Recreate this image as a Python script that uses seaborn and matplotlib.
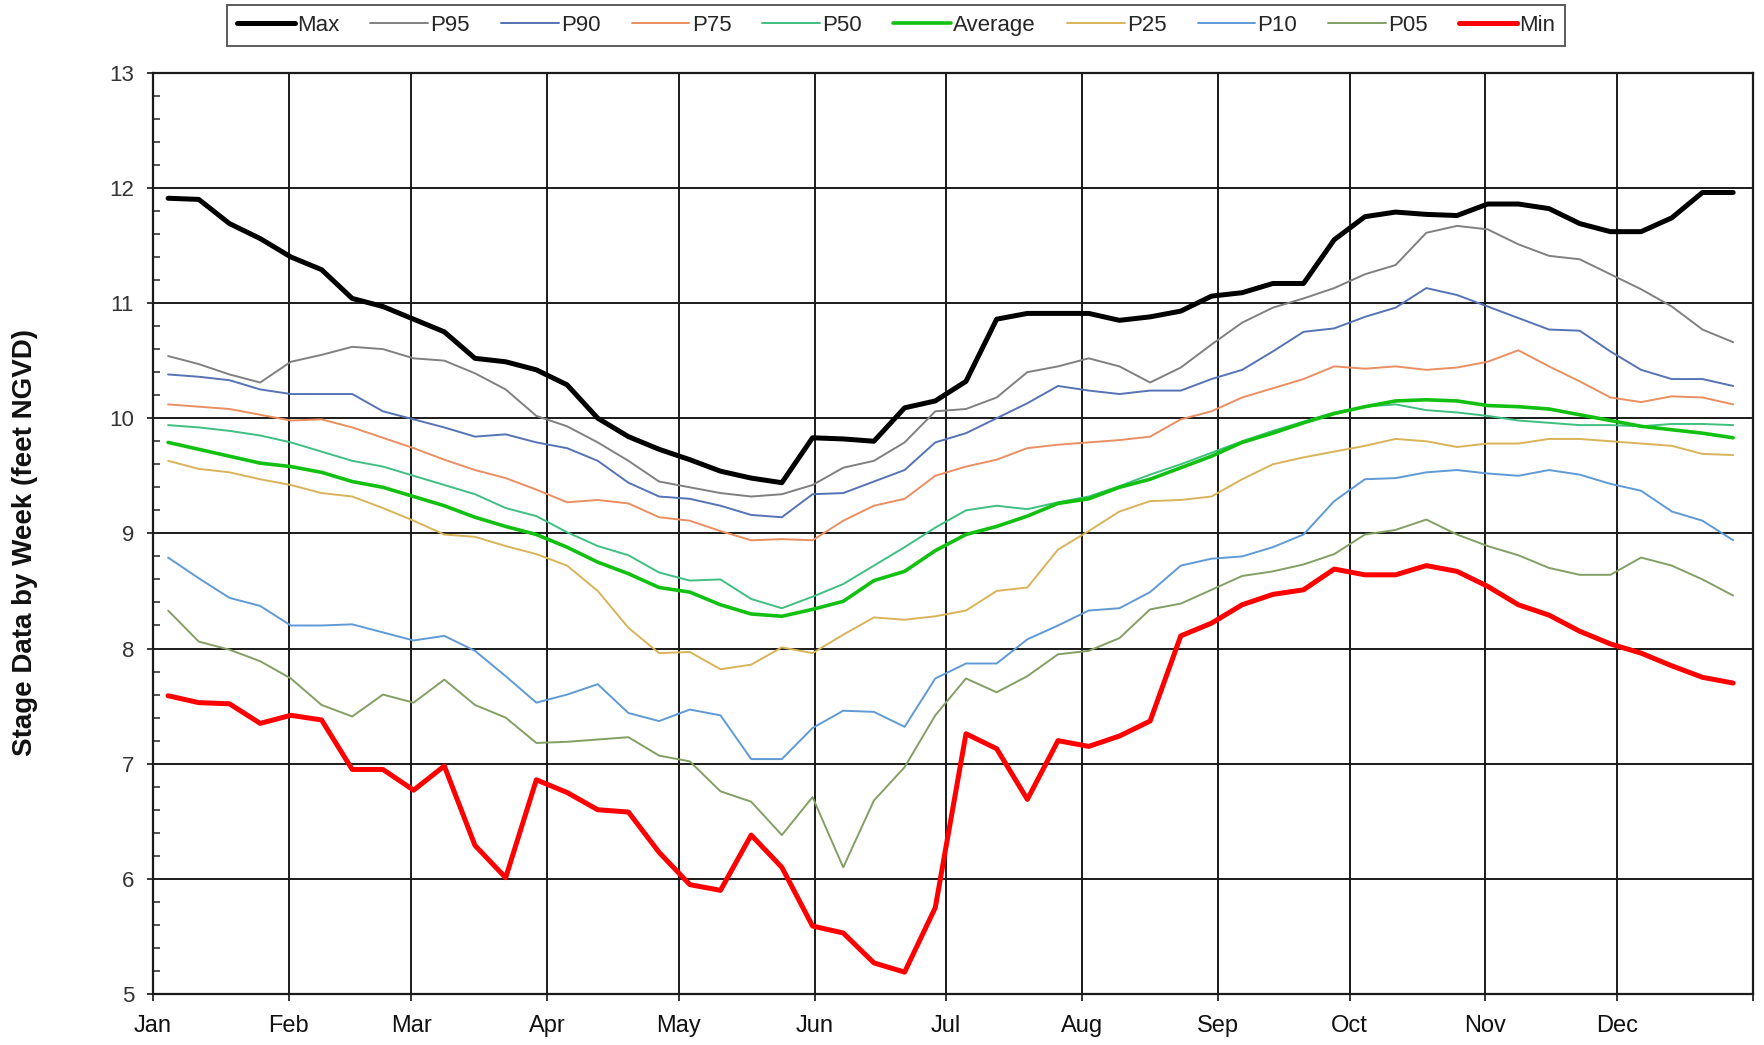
import numpy as np
import pandas as pd
import matplotlib
matplotlib.use("Agg")
import matplotlib.pyplot as plt
import seaborn as sns
from matplotlib.ticker import MultipleLocator

# ---------------- data (weekly stage, feet NGVD) ----------------
weeks = list(range(1, 53))

max_vals = [11.91, 11.90, 11.69, 11.56, 11.40, 11.29, 11.04, 10.97, 10.86, 10.75, 10.52, 10.49, 10.42,
            10.29, 10.00, 9.84, 9.73, 9.64, 9.54, 9.48, 9.44, 9.83, 9.82, 9.80, 10.09, 10.15,
            10.32, 10.86, 10.91, 10.91, 10.91, 10.85, 10.88, 10.93, 11.06, 11.09, 11.17, 11.17, 11.55,
            11.75, 11.79, 11.77, 11.76, 11.86, 11.86, 11.82, 11.69, 11.62, 11.62, 11.74, 11.96, 11.96]
p95_vals = [10.54, 10.47, 10.38, 10.31, 10.49, 10.55, 10.62, 10.60, 10.52, 10.50, 10.39, 10.25, 10.02,
            9.93, 9.79, 9.63, 9.45, 9.40, 9.35, 9.32, 9.34, 9.42, 9.57, 9.63, 9.79, 10.06,
            10.08, 10.18, 10.40, 10.45, 10.52, 10.45, 10.31, 10.44, 10.64, 10.83, 10.96, 11.04, 11.13,
            11.25, 11.33, 11.61, 11.67, 11.64, 11.51, 11.41, 11.38, 11.25, 11.12, 10.97, 10.77, 10.66]
p90_vals = [10.38, 10.36, 10.33, 10.25, 10.21, 10.21, 10.21, 10.06, 9.99, 9.92, 9.84, 9.86, 9.79,
            9.74, 9.63, 9.44, 9.32, 9.30, 9.24, 9.16, 9.14, 9.34, 9.35, 9.45, 9.55, 9.79,
            9.87, 10.00, 10.13, 10.28, 10.24, 10.21, 10.24, 10.24, 10.34, 10.42, 10.58, 10.75, 10.78,
            10.88, 10.96, 11.13, 11.07, 10.97, 10.87, 10.77, 10.76, 10.58, 10.42, 10.34, 10.34, 10.28]
p75_vals = [10.12, 10.10, 10.08, 10.03, 9.98, 9.99, 9.92, 9.83, 9.74, 9.64, 9.55, 9.48, 9.38,
            9.27, 9.29, 9.26, 9.14, 9.11, 9.02, 8.94, 8.95, 8.94, 9.11, 9.24, 9.30, 9.50,
            9.58, 9.64, 9.74, 9.77, 9.79, 9.81, 9.84, 9.99, 10.06, 10.18, 10.26, 10.34, 10.45,
            10.43, 10.45, 10.42, 10.44, 10.49, 10.59, 10.45, 10.32, 10.18, 10.14, 10.19, 10.18, 10.12]
p50_vals = [9.94, 9.92, 9.89, 9.85, 9.79, 9.71, 9.63, 9.58, 9.50, 9.42, 9.34, 9.22, 9.15,
            9.01, 8.89, 8.81, 8.66, 8.59, 8.60, 8.43, 8.35, 8.45, 8.56, 8.72, 8.88, 9.05,
            9.20, 9.24, 9.21, 9.27, 9.32, 9.41, 9.51, 9.60, 9.70, 9.80, 9.89, 9.97, 10.05,
            10.10, 10.12, 10.07, 10.05, 10.02, 9.98, 9.96, 9.94, 9.94, 9.93, 9.95, 9.95, 9.94]
avg_vals = [9.79, 9.73, 9.67, 9.61, 9.58, 9.53, 9.45, 9.40, 9.32, 9.24, 9.14, 9.06, 8.99,
            8.88, 8.75, 8.65, 8.53, 8.49, 8.38, 8.30, 8.28, 8.34, 8.41, 8.59, 8.67, 8.85,
            8.99, 9.06, 9.15, 9.26, 9.30, 9.40, 9.47, 9.57, 9.67, 9.79, 9.87, 9.96, 10.04,
            10.10, 10.15, 10.16, 10.15, 10.11, 10.10, 10.08, 10.03, 9.98, 9.93, 9.90, 9.87, 9.83]
p25_vals = [9.63, 9.56, 9.53, 9.47, 9.42, 9.35, 9.32, 9.22, 9.11, 8.99, 8.97, 8.89, 8.82,
            8.72, 8.50, 8.18, 7.96, 7.97, 7.82, 7.86, 8.01, 7.96, 8.12, 8.27, 8.25, 8.28,
            8.33, 8.50, 8.53, 8.86, 9.02, 9.19, 9.28, 9.29, 9.32, 9.47, 9.60, 9.66, 9.71,
            9.76, 9.82, 9.80, 9.75, 9.78, 9.78, 9.82, 9.82, 9.80, 9.78, 9.76, 9.69, 9.68]
p10_vals = [8.79, 8.61, 8.44, 8.37, 8.20, 8.20, 8.21, 8.14, 8.07, 8.11, 7.98, 7.76, 7.53,
            7.60, 7.69, 7.44, 7.37, 7.47, 7.42, 7.04, 7.04, 7.31, 7.46, 7.45, 7.32, 7.74,
            7.87, 7.87, 8.08, 8.20, 8.33, 8.35, 8.49, 8.72, 8.78, 8.80, 8.88, 8.99, 9.28,
            9.47, 9.48, 9.53, 9.55, 9.52, 9.50, 9.55, 9.51, 9.43, 9.37, 9.19, 9.11, 8.94]
p05_vals = [8.33, 8.06, 7.99, 7.89, 7.74, 7.51, 7.41, 7.60, 7.53, 7.73, 7.51, 7.40, 7.18,
            7.19, 7.21, 7.23, 7.07, 7.02, 6.76, 6.67, 6.38, 6.71, 6.10, 6.68, 6.97, 7.42,
            7.74, 7.62, 7.76, 7.95, 7.98, 8.09, 8.34, 8.39, 8.51, 8.63, 8.67, 8.73, 8.82,
            8.99, 9.03, 9.12, 8.99, 8.89, 8.81, 8.70, 8.64, 8.64, 8.79, 8.72, 8.60, 8.46]
min_vals = [7.59, 7.53, 7.52, 7.35, 7.42, 7.38, 6.95, 6.95, 6.77, 6.98, 6.29, 6.01, 6.86,
            6.75, 6.60, 6.58, 6.23, 5.95, 5.90, 6.38, 6.10, 5.59, 5.53, 5.27, 5.19, 5.75,
            7.26, 7.13, 6.69, 7.20, 7.15, 7.24, 7.37, 8.11, 8.22, 8.38, 8.47, 8.51, 8.69,
            8.64, 8.64, 8.72, 8.67, 8.54, 8.38, 8.29, 8.15, 8.04, 7.96, 7.85, 7.75, 7.70]

series_names = ["Max", "P95", "P90", "P75", "P50", "Average", "P25", "P10", "P05", "Min"]
series_vals = [max_vals, p95_vals, p90_vals, p75_vals, p50_vals, avg_vals,
               p25_vals, p10_vals, p05_vals, min_vals]

month_labels = ["Jan", "Feb", "Mar", "Apr", "May", "Jun", "Jul", "Aug", "Sep", "Oct", "Nov", "Dec"]
month_days = [31, 28, 31, 30, 31, 30, 31, 31, 30, 31, 30, 31]

# ---------------- styles ----------------
colors = {"Max": "#000000", "P95": "#808080", "P90": "#5673B5", "P75": "#EA8F62",
          "P50": "#3FBF80", "Average": "#11C011", "P25": "#D9B35A", "P10": "#5F9AD6",
          "P05": "#82A064", "Min": "#FF0000"}
widths = {"Max": 3.6, "P95": 1.4, "P90": 1.4, "P75": 1.4, "P50": 1.4, "Average": 2.6,
          "P25": 1.4, "P10": 1.4, "P05": 1.4, "Min": 3.6}

rows = []
for name, vals in zip(series_names, series_vals):
    for w, v in zip(weeks, vals):
        rows.append({"day": (w - 0.5) * 7, "stage": v, "series": name})
df = pd.DataFrame(rows)

sns.set_theme(style="white")
plt.rcParams["font.family"] = ["Liberation Sans", "DejaVu Sans"]

fig = plt.figure(figsize=(17.64, 10.45), dpi=100)
ax = fig.add_axes([0.0866, 0.0488, 0.9071, 0.8816])

for name in series_names:
    sub = df[df["series"] == name]
    sns.lineplot(data=sub, x="day", y="stage", ax=ax, color=colors[name],
                 linewidth=widths[name], label=name, legend=False,
                 solid_joinstyle="round", solid_capstyle="round")

month_starts = np.concatenate([[0], np.cumsum(month_days)])
ax.set_xlim(0, 365)
ax.set_ylim(5, 13)
ax.set_xticks(month_starts)
ax.set_xticklabels(month_labels + [""], fontsize=17, color="#111111")
ax.yaxis.set_major_locator(MultipleLocator(1))
ax.yaxis.set_minor_locator(MultipleLocator(0.2))
ax.tick_params(axis="y", which="major", direction="inout", length=9, width=1.3,
               labelsize=16, labelcolor="#333333", left=True, pad=9)
ax.tick_params(axis="y", which="minor", direction="in", length=5, width=1.1, left=True)
ax.tick_params(axis="x", which="major", direction="out", length=5, width=1.3,
               bottom=True, pad=10)

ax.grid(True, which="major", color="#1a1a1a", linewidth=1.4)
ax.set_axisbelow(True)
for sp in ax.spines.values():
    sp.set_color("#1a1a1a")
    sp.set_linewidth(1.6)

ax.set_xlabel("")
ax.set_ylabel("Stage Data by Week (feet NGVD)", fontsize=20, fontweight="bold",
              color="#111111")
ax.yaxis.set_label_coords(-0.072, 0.49)

handles, labels = ax.get_legend_handles_labels()
leg = fig.legend(handles, labels, loc="center", bbox_to_anchor=(0.508, 0.9755),
                 ncol=10, frameon=True, fancybox=False, edgecolor="#222222",
                 fontsize=16, handlelength=2.6, handletextpad=0.1, columnspacing=1.4,
                 borderpad=0.45)
leg.get_frame().set_linewidth(1.3)

fig.savefig("out.png", dpi=100)
